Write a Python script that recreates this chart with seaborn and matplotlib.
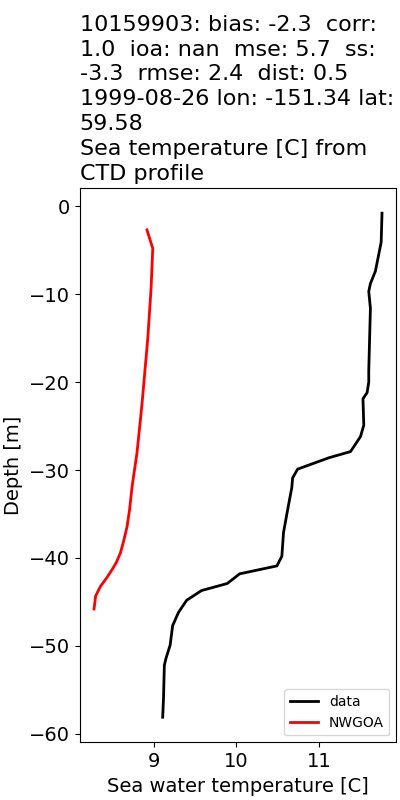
import numpy as np
import pandas as pd
import matplotlib
matplotlib.use("Agg")
import matplotlib.pyplot as plt
import seaborn as sns

# CTD profile (observed)
obs_depth = [-0.8, -4.1, -7.4, -8.8, -9.7, -11.6, -18.7, -20.0, -21.2, -21.9, -24.9,
             -26.2, -27.9, -28.6, -29.9, -30.9, -32.0, -33.0, -34.5, -37.1, -39.8,
             -40.9, -41.8, -42.9, -43.7, -44.8, -46.2, -47.7, -49.9, -51.4, -52.2,
             -55.9, -58.1]
obs_temp = [11.76, 11.75, 11.68, 11.62, 11.60, 11.62, 11.60, 11.60, 11.58, 11.53, 11.54,
            11.50, 11.38, 11.12, 10.74, 10.68, 10.67, 10.65, 10.62, 10.57, 10.55,
            10.49, 10.04, 9.89, 9.58, 9.40, 9.30, 9.23, 9.20, 9.15, 9.13,
            9.12, 9.11]

# NWGOA model profile
mod_depth = [-2.7, -4.8, -9.3, -15.0, -22.5, -28.0, -31.9, -34.5, -36.4, -38.0,
             -39.4, -40.5, -41.3, -42.3, -43.2, -44.3, -45.8]
mod_temp = [8.92, 8.99, 8.97, 8.93, 8.86, 8.80, 8.74, 8.71, 8.68, 8.64,
            8.60, 8.55, 8.50, 8.43, 8.36, 8.30, 8.28]

df_obs = pd.DataFrame({"temp": obs_temp, "depth": obs_depth, "src": "data"})
df_mod = pd.DataFrame({"temp": mod_temp, "depth": mod_depth, "src": "NWGOA"})
df = pd.concat([df_obs, df_mod], ignore_index=True)

title = ("10159903: bias: -2.3  corr:\n1.0  ioa: nan  mse: 5.7  ss:\n"
         "-3.3  rmse: 2.4  dist: 0.5\n1999-08-26 lon: -151.34 lat:\n59.58\n"
         "Sea temperature [C] from\nCTD profile")

fig = plt.figure(figsize=(4, 8), dpi=100)
ax = fig.add_axes([0.199, 0.072, 0.792, 0.693])

sns.lineplot(data=df, x="temp", y="depth", hue="src", sort=False, estimator=None,
             palette={"data": "black", "NWGOA": "red"}, linewidth=2, ax=ax)

ax.set_title(title, loc="left", fontsize=16, linespacing=1.3)
ax.set_xlabel("Sea water temperature [C]", fontsize=14)
ax.set_ylabel("Depth [m]", fontsize=14)
ax.tick_params(labelsize=14)
ax.legend(loc="lower right", fontsize=10)

fig.savefig("out.png")
